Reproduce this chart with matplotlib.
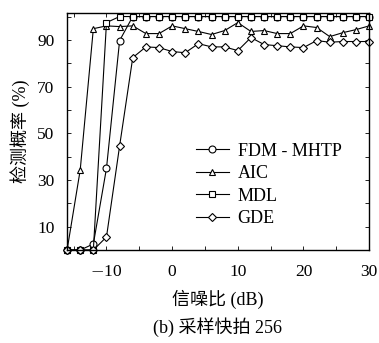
import matplotlib
matplotlib.use('Agg')
import matplotlib.pyplot as plt

plt.rcParams['font.family'] = ['Liberation Serif', 'Noto Sans CJK SC']
plt.rcParams['mathtext.fontset'] = 'cm'

snr = list(range(-16, 31, 2))

fdm = [0, 0, 2.6, 35, 89.7, 100, 100, 100, 100, 100, 100, 100, 100, 100,
       100, 100, 100, 100, 100, 100, 100, 100, 100, 100]
aic = [0, 34.3, 94.8, 96, 95.7, 96, 92.7, 92.7, 96, 94.8, 93.6, 92.3,
       94, 97.4, 93.6, 94, 92.7, 92.7, 96, 95.3, 91.4, 93.1, 94.4, 96]
mdl = [0, 0, 0, 97.4, 100, 100, 100, 100, 100, 100, 100, 100, 100, 100,
       100, 100, 100, 100, 100, 100, 100, 100, 100, 100]
gde = [0, 0, 0, 5.6, 44.6, 82.4, 87, 86.7, 85, 84.5, 88.4, 87, 87, 85.4,
       91, 88, 87.5, 87, 86.7, 89.7, 89, 89.3, 89.3, 89.3]

names = ['FDM - MHTP', 'AIC', 'MDL', 'GDE']
markers = ['o', '^', 's', 'D']

fig = plt.figure(figsize=(3.79, 3.43), dpi=100)
ax = fig.add_axes([0.177, 0.271, 0.797, 0.691])

for y, name, m in zip([fdm, aic, mdl, gde], names, markers):
    ms = 4.2 if m == 'D' else 5
    ax.plot(snr, y, color='black', lw=0.8, marker=m, ms=ms,
            mfc='white', mec='black', mew=0.8, label=name, clip_on=False)

ax.set_xlim(-16, 30)
ax.set_ylim(0, 101.5)
ax.set_xticks([-15, -10, -5, 0, 5, 10, 15, 20, 25, 30])
ax.set_xticklabels(['', '$-$10', '', '0', '', '10', '', '20', '', '30'])
ax.set_yticks(range(10, 101, 10))
ax.set_yticklabels(['10', '', '30', '', '50', '', '70', '', '90', ''])
ax.tick_params(direction='in', top=True, right=True, labelsize=12.5,
               length=3, width=0.6)
ax.tick_params(axis='x', pad=10)
ax.tick_params(axis='y', pad=9)
for s in ax.spines.values():
    s.set_linewidth(1.0)

ax.set_xlabel('信噪比 (dB)', fontsize=13, labelpad=7)
ax.set_ylabel('检测概率 (%)', fontsize=13, labelpad=5)
fig.text(0.575, 0.03, '(b) 采样快拍 256', fontsize=13, ha='center')

ax.legend(loc='center left', bbox_to_anchor=(0.385, 0.275), frameon=False,
          fontsize=13, handlelength=1.8, handletextpad=0.5,
          labelspacing=0.3, borderpad=0.2)

fig.savefig('out.png', dpi=100)
